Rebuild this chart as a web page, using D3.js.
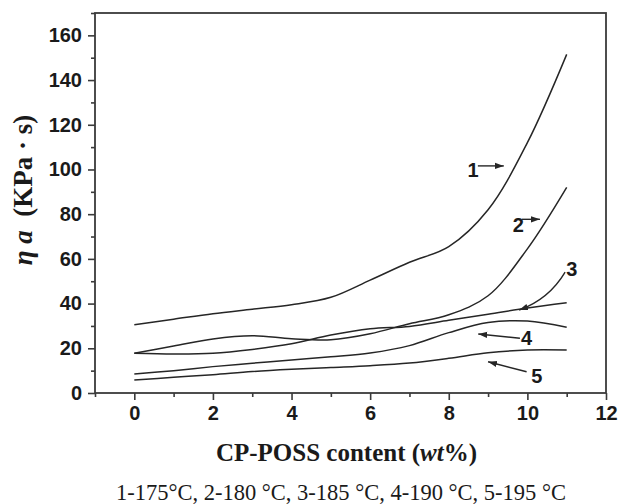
<!DOCTYPE html>
<html>
<head>
<meta charset="utf-8">
<script src="https://cdn.jsdelivr.net/npm/d3@7"></script>
<style>
  html, body { margin: 0; padding: 0; background: #fff; }
  svg { display: block; }
</style>
</head>
<body>
<svg id="chart" width="618" height="504"></svg>
<script>
// ---- data ----
const xValues = [0, 1, 2, 3, 4, 5, 6, 7, 8, 9, 10, 11];
const curve1 = [30.5, 33, 35.5, 37.5, 39.5, 42.8, 50.5, 58.5, 65.5, 82, 112, 151.5];
const curve2 = [17.8, 21, 24.2, 25.6, 24.3, 23.8, 26.5, 31, 35, 43.5, 64.5, 92];
const curve3 = [17.8, 17.5, 17.8, 19.5, 22, 25.9, 28.7, 29.8, 32.5, 35.2, 38, 40.4];
const curve4 = [8.5, 10, 11.8, 13.3, 14.8, 16.2, 17.9, 21.2, 27, 31.5, 32.2, 29.4];
const curve5 = [5.8, 7, 8.2, 9.6, 10.6, 11.4, 12.2, 13.4, 15.5, 18, 19.2, 19.2];
const seriesNames = ["1", "2", "3", "4", "5"];
const xTickLabels = [0, 2, 4, 6, 8, 10, 12];
const xMinorTicks = [-1, 1, 3, 5, 7, 9, 11];
const yTickLabels = [0, 20, 40, 60, 80, 100, 120, 140, 160];
const yMinorTicks = [10, 30, 50, 70, 90, 110, 130, 150, 170];
const xTitle = "CP-POSS content (";
const legendText = "1-175°C, 2-180 °C, 3-185 °C, 4-190 °C, 5-195 °C";
// annotation anchors in data units: label centre, arrow start, arrow end
const annLabels = [[8.62, 99.8], [9.77, 75.2], [11.13, 55.5], [9.98, 24.5], [10.24, 7.6]];
const annArrowFrom = [[8.74, 101.6], [9.86, 77.7], [10.96, 54.1], [9.81, 24.5], [9.98, 9.5]];
const annArrowTo = [[9.40, 101.6], [10.32, 77.7], [9.79, 37.1], [8.75, 26.4], [9.0, 14.0]];
const annArrowBend = [null, null, [10.55, 42.0], null, null];

// ---- layout ----
const svg = d3.select("#chart");
const x = d3.scaleLinear().domain([-1, 12]).range([95, 606]);
const y = d3.scaleLinear().domain([0, 170]).range([393, 13]);
const ink = "#262626";

// defs: arrowhead
svg.append("defs").append("marker")
  .attr("id", "ah").attr("markerUnits", "userSpaceOnUse")
  .attr("markerWidth", 10).attr("markerHeight", 8)
  .attr("refX", 9).attr("refY", 4).attr("orient", "auto")
  .append("path").attr("d", "M0,0.8 L9,4 L0,7.2 Z").attr("fill", ink);

// frame
svg.append("rect")
  .attr("x", x(-1)).attr("y", y(170))
  .attr("width", x(12) - x(-1)).attr("height", y(0) - y(170))
  .attr("fill", "none").attr("stroke", "#3a3a3a").attr("stroke-width", 1.8);

// axes
function styleAxis(g) {
  g.select(".domain").remove();
  g.selectAll(".tick line").attr("stroke", "#3a3a3a").attr("stroke-width", 1.6);
  g.selectAll(".tick text")
    .attr("fill", "#1a1a1a")
    .style("font-family", "'Liberation Sans', Arial, sans-serif")
    .style("font-weight", "bold").style("font-size", "20px");
}
svg.append("g").attr("transform", `translate(0,${y(0)})`)
  .call(d3.axisBottom(x).tickValues(xTickLabels).tickSize(7).tickPadding(6).tickFormat(d3.format("d")))
  .call(styleAxis);
svg.append("g").attr("transform", `translate(0,${y(0)})`)
  .call(d3.axisBottom(x).tickValues(xMinorTicks).tickSize(4).tickFormat(""))
  .call(styleAxis);
svg.append("g").attr("transform", `translate(${x(-1)},0)`)
  .call(d3.axisLeft(y).tickValues(yTickLabels).tickSize(7).tickPadding(6).tickFormat(d3.format("d")))
  .call(styleAxis);
svg.append("g").attr("transform", `translate(${x(-1)},0)`)
  .call(d3.axisLeft(y).tickValues(yMinorTicks).tickSize(4).tickFormat(""))
  .call(styleAxis);

// curves
const allSeries = [curve1, curve2, curve3, curve4, curve5];
const line = d3.line()
  .x((d, i) => x(xValues[i]))
  .y(d => y(d))
  .curve(d3.curveCatmullRom.alpha(0.5));
svg.append("g").selectAll("path").data(allSeries).join("path")
  .attr("d", d => line(d))
  .attr("fill", "none").attr("stroke", ink).attr("stroke-width", 1.5);

// annotations
const ann = svg.append("g");
seriesNames.forEach((name, i) => {
  const [lx, ly] = annLabels[i];
  ann.append("text")
    .attr("x", x(lx)).attr("y", y(ly))
    .attr("text-anchor", "middle").attr("dominant-baseline", "central")
    .style("font-family", "'Liberation Sans', Arial, sans-serif")
    .style("font-weight", "bold").style("font-size", "20px")
    .attr("fill", "#1a1a1a").text(name);
  const [fx, fy] = annArrowFrom[i];
  const [tx, ty] = annArrowTo[i];
  const bend = annArrowBend[i];
  let d;
  if (bend) {
    d = `M${x(fx)},${y(fy)} Q${x(bend[0])},${y(bend[1])} ${x(tx)},${y(ty)}`;
  } else {
    d = `M${x(fx)},${y(fy)} L${x(tx)},${y(ty)}`;
  }
  ann.append("path").attr("d", d)
    .attr("fill", "none").attr("stroke", ink).attr("stroke-width", 1.4)
    .attr("marker-end", "url(#ah)");
});

// x title
const xt = svg.append("text")
  .attr("x", (x(-1) + x(12)) / 2 - 4).attr("y", 461)
  .attr("text-anchor", "middle")
  .style("font-family", "'Liberation Serif', 'Times New Roman', serif")
  .style("font-weight", "bold").style("font-size", "25px")
  .attr("fill", "#1a1a1a");
xt.append("tspan").text(xTitle);
xt.append("tspan").style("font-style", "italic").text("wt");
xt.append("tspan").text("%)");

// y title
const yt = svg.append("text")
  .attr("transform", `translate(32,190) rotate(-90)`)
  .attr("text-anchor", "middle")
  .style("font-family", "'Liberation Serif', 'Times New Roman', serif")
  .style("font-weight", "bold").style("font-size", "27px")
  .attr("fill", "#1a1a1a");
yt.append("tspan").style("font-style", "italic").text("η a");
yt.append("tspan").text("\u00a0 (KPa · s)");

// legend caption
svg.append("text")
  .attr("x", 341).attr("y", 500)
  .attr("text-anchor", "middle")
  .style("font-family", "'Liberation Serif', 'Times New Roman', serif")
  .style("font-size", "22.5px")
  .attr("fill", "#1a1a1a")
  .text(legendText);
</script>
</body>
</html>
